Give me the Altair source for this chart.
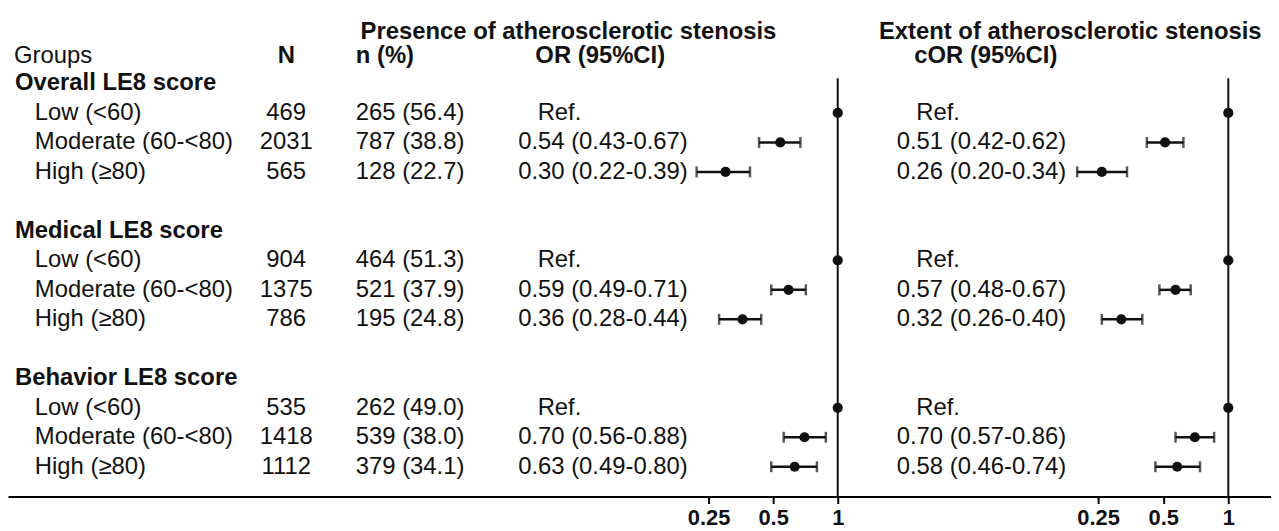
import altair as alt
import pandas as pd

# ---------------- data ----------------
group_titles = ["Overall LE8 score", "Medical LE8 score", "Behavior LE8 score"]
levels = ["Low (<60)", "Moderate (60-<80)", "High (\u226580)"]
n_total = [469, 2031, 565, 904, 1375, 786, 535, 1418, 1112]
n_event = [265, 787, 128, 464, 521, 195, 262, 539, 379]
pct = [56.4, 38.8, 22.7, 51.3, 37.9, 24.8, 49.0, 38.0, 34.1]
or_est = [1.0, 0.54, 0.30, 1.0, 0.59, 0.36, 1.0, 0.70, 0.63]
or_lo = [None, 0.43, 0.22, None, 0.49, 0.28, None, 0.56, 0.49]
or_hi = [None, 0.67, 0.39, None, 0.71, 0.44, None, 0.88, 0.80]
cor_est = [1.0, 0.51, 0.26, 1.0, 0.57, 0.32, 1.0, 0.70, 0.58]
cor_lo = [None, 0.42, 0.20, None, 0.48, 0.26, None, 0.57, 0.46]
cor_hi = [None, 0.62, 0.34, None, 0.67, 0.40, None, 0.86, 0.74]
axis_ticks = [0.25, 0.5, 1]
header1 = "Presence of atherosclerotic stenosis"
header2 = "Extent of atherosclerotic stenosis"

# ---------------- tables ----------------
def ci_text(e, lo, hi):
    if lo is None:
        return "Ref."
    return f"{e:.2f} ({lo:.2f}-{hi:.2f})"

rows = []
for i in range(9):
    g, k = divmod(i, 3)
    rows.append({
        "row": 5 * g + 1 + k,
        "level": levels[k],
        "N": str(n_total[i]),
        "npct": f"{n_event[i]} ({pct[i]:.1f})",
        "or_txt": ci_text(or_est[i], or_lo[i], or_hi[i]),
        "cor_txt": ci_text(cor_est[i], cor_lo[i], cor_hi[i]),
        "is_ref": or_lo[i] is None,
        "or_est": or_est[i], "or_lo": or_lo[i], "or_hi": or_hi[i],
        "cor_est": cor_est[i], "cor_lo": cor_lo[i], "cor_hi": cor_hi[i],
    })
df = pd.DataFrame(rows)
df_ci = df[~df["is_ref"]].copy()
df_ref = df[df["is_ref"]].copy()
titles = pd.DataFrame({"row": [0, 5, 10], "title": group_titles})

FONT = "Liberation Sans"
FS = 24
INK = "#111111"
W, H = 1271, 490

yscale = alt.Scale(domain=[-2.504, 14.011], reverse=True, nice=False, zero=False)
Y = alt.Y("row:Q", scale=yscale, axis=None)


def txt(data, field, x, align="left", bold=False, size=FS):
    return alt.Chart(data).mark_text(
        align=align, baseline="middle", font=FONT, fontSize=size,
        fontWeight="bold" if bold else "normal", color=INK,
    ).encode(x=alt.value(x), y=Y, text=alt.Text(f"{field}:N"))


def single(text, row, x, align="center", bold=True):
    d = pd.DataFrame({"row": [row], "t": [text]})
    return txt(d, "t", x, align=align, bold=bold)


text_layers = [
    single("Groups", -0.92, 6, align="left", bold=False),
    single("N", -0.92, 280),
    single("n (%)", -0.92, 350, align="left"),
    single("OR (95%CI)", -0.92, 596),
    single("cOR (95%CI)", -0.92, 984),
    single(header1, -1.76, 564),
    single(header2, -1.76, 1069),
    txt(titles, "title", 7, bold=True),
    txt(df, "level", 27),
    txt(df, "N", 280, align="center"),
    txt(df, "npct", 350),
    txt(df_ref, "or_txt", 533),
    txt(df_ci, "or_txt", 684, align="right"),
    txt(df_ref, "cor_txt", 914),
    txt(df_ci, "cor_txt", 1065, align="right"),
]


def forest(est, lo, hi, domain, show_domain):
    sc = alt.Scale(type="log", domain=domain, nice=False)
    ax = alt.Axis(
        orient="bottom", values=axis_ticks, format="~g", title=None, grid=False,
        domain=show_domain, domainColor="#000000", domainWidth=2,
        tickColor="#000000", tickWidth=2, tickSize=7,
        labelFont=FONT, labelFontWeight="bold", labelFontSize=22,
        labelColor=INK, labelPadding=4, labelOverlap=False, labelFlush=False,
    )
    null_line = alt.Chart(pd.DataFrame({"v": [1.0]})).mark_rule(
        color=INK, strokeWidth=2
    ).encode(x=alt.X("v:Q", scale=sc, axis=ax), y=alt.value(69), y2=alt.value(H))
    bars = alt.Chart(df_ci).mark_rule(color=INK, strokeWidth=2.5).encode(
        x=alt.X(f"{lo}:Q", scale=sc), x2=f"{hi}:Q", y=Y
    )
    caps = alt.Chart(df_ci).transform_fold([lo, hi], as_=["end", "val"]).mark_tick(
        orient="vertical", color=INK, size=11, thickness=2.5
    ).encode(x=alt.X("val:Q", scale=sc), y=Y)
    dots = alt.Chart(df).mark_circle(size=105, opacity=1, color=INK).encode(
        x=alt.X(f"{est}:Q", scale=sc), y=Y
    )
    return alt.layer(null_line, bars, caps, dots)


f1 = forest("or_est", "or_lo", "or_hi", [2 ** -12.846, 2 ** 6.708], True)
f2 = forest("cor_est", "cor_lo", "cor_hi", [2 ** -18.75, 2 ** 0.656], False)

chart = alt.layer(f1, f2, *text_layers).resolve_scale(x="independent").properties(
    width=W, height=H,
    padding={"left": 0, "top": 0, "right": 0, "bottom": 33},
    autosize=alt.AutoSizeParams(type="none"),
    background="white",
).configure_view(stroke=None)

chart.save("out.html", embed_options={"renderer": "svg", "actions": False})
